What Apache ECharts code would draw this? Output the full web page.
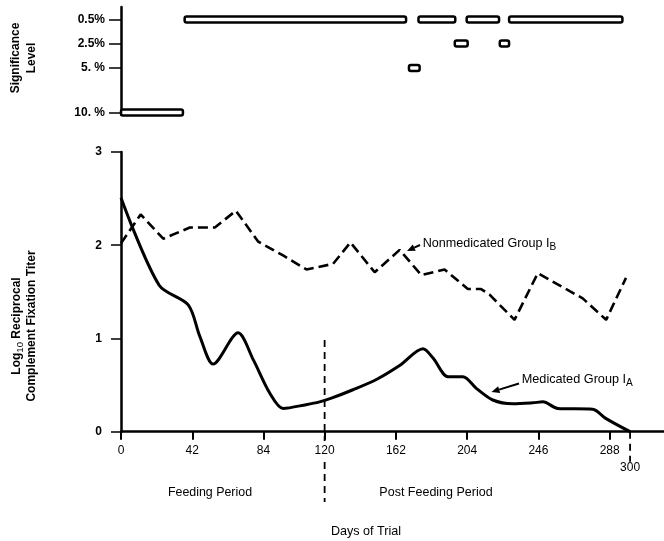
<!DOCTYPE html>
<html><head><meta charset="utf-8">
<script src="https://cdn.jsdelivr.net/npm/echarts@6/dist/echarts.min.js"></script>
<style>html,body{margin:0;padding:0;background:#fff}#c{width:664px;height:541px}</style>
</head><body><div id="c"></div>
<script>
// ---- data ----
const dayTicks = [0, 42, 84, 120, 162, 204, 246, 288, 300];
const sigLabels = ['0.5%', '2.5%', '5. %', '10. %'];
const sigLevel = ['10. %', '0.5%', '0.5%', '0.5%', '0.5%', '5. %', '2.5%', '2.5%'];
const sigStart = [0, 37.5, 175.3, 203.7, 228.7, 169.7, 196.7, 223.2];
const sigEnd   = [36.5, 168, 197, 222.8, 295.5, 176, 204.3, 228.7];

const medDays = [0, 22.5, 39.6, 46.5, 54.3, 69, 78, 87.8, 95.5, 109, 117, 124, 136.7, 150.5, 164.2, 178, 183.9, 192.7, 201.5, 209.4, 219.1, 231, 242.7, 248.6, 257.4, 278, 285.9, 300];
const medVals = [2.51, 1.57, 1.36, 1.02, 0.725, 1.06, 0.77, 0.41, 0.25, 0.29, 0.32, 0.36, 0.45, 0.56, 0.71, 0.89, 0.79, 0.59, 0.59, 0.465, 0.34, 0.30, 0.31, 0.32, 0.25, 0.24, 0.14, 0.0];

const nonDays = [0, 11.6, 24.9, 40.6, 55.3, 67.7, 80.8, 95.5, 109.3, 125, 135.2, 149.5, 164.2, 177, 190.7, 204.4, 212.2, 217.2, 231.9, 245.6, 258.4, 272.1, 285.9, 297.6];
const nonVals = [2.02, 2.33, 2.07, 2.19, 2.19, 2.37, 2.04, 1.89, 1.74, 1.80, 2.03, 1.71, 1.95, 1.68, 1.74, 1.53, 1.53, 1.47, 1.20, 1.70, 1.57, 1.43, 1.20, 1.65];

// ---- layout ----
const FONT = "'Liberation Sans', Arial, Helvetica, sans-serif";
const LEVEL_POS = [0, 1, 2.017, 3.875]; // vertical row positions of sigLabels
const chart = echarts.init(document.getElementById('c'), null, {renderer: 'canvas'});

const option = {
  animation: false,
  backgroundColor: '#fff',
  textStyle: {fontFamily: FONT, color: '#000'},
  grid: [
    {left: 121, right: 0, top: 7, height: 108},
    {left: 121, right: 0, top: 152, bottom: 109.3}
  ],
  xAxis: [
    {gridIndex: 0, type: 'value', min: 0, max: 320, show: false},
    {gridIndex: 1, type: 'value', min: 0, max: 320,
     axisLine: {show: true, lineStyle: {color: '#000', width: 2.5}},
     splitLine: {show: false},
     axisTick: {show: true, length: 8, lineStyle: {color: '#000', width: 2},
                customValues: dayTicks.filter(d => d !== 300)},
     axisLabel: {customValues: dayTicks, margin: 13, fontSize: 12, color: '#000', fontFamily: FONT,
                 formatter: v => v === 300 ? '{low|300}' : String(v),
                 rich: {low: {padding: [17, 0, 0, 0], fontSize: 12, color: '#000', fontFamily: FONT}}}
    }
  ],
  yAxis: [
    {gridIndex: 0, type: 'value', inverse: true, min: -0.52, max: 3.98,
     axisLine: {show: true, lineStyle: {color: '#000', width: 2.5}},
     splitLine: {show: false},
     axisTick: {show: true, length: 12, customValues: LEVEL_POS, lineStyle: {color: '#000', width: 1.5}},
     axisLabel: {customValues: LEVEL_POS, margin: 16, fontSize: 12, fontWeight: 'bold', color: '#000', fontFamily: FONT,
                 formatter: v => { const i = LEVEL_POS.findIndex(p => Math.abs(p - v) < 1e-6); return i >= 0 ? sigLabels[i] : ''; }}
    },
    {gridIndex: 1, type: 'value', min: 0, max: 3, interval: 1,
     axisLine: {show: true, lineStyle: {color: '#000', width: 2.5}},
     splitLine: {show: false},
     axisTick: {show: true, length: 10, lineStyle: {color: '#000', width: 1.5}},
     axisLabel: {margin: 19, fontSize: 12, fontWeight: 'bold', color: '#000', fontFamily: FONT}
    }
  ],
  series: [
    {type: 'custom', xAxisIndex: 0, yAxisIndex: 0, clip: false,
     data: sigStart.map((s, i) => [s, sigEnd[i], LEVEL_POS[sigLabels.indexOf(sigLevel[i])]]),
     encode: {x: [0, 1], y: 2},
     renderItem: (p, api) => {
       const a = api.coord([api.value(0), api.value(2)]);
       const b = api.coord([api.value(1), api.value(2)]);
       return {type: 'rect', shape: {x: a[0], y: a[1] - 3, width: b[0] - a[0], height: 6, r: 2},
               style: {fill: '#fff', stroke: '#000', lineWidth: 2.5}};
     }
    },
    {type: 'line', name: 'Medicated Group IA', xAxisIndex: 1, yAxisIndex: 1,
     data: medDays.map((d, i) => [d, medVals[i]]),
     symbol: 'none', smooth: 0.3, clip: false,
     lineStyle: {color: '#000', width: 3}},
    {type: 'line', name: 'Nonmedicated Group IB', xAxisIndex: 1, yAxisIndex: 1,
     data: nonDays.map((d, i) => [d, nonVals[i]]),
     symbol: 'none', smooth: false, clip: false,
     lineStyle: {color: '#000', width: 2.6, type: [10, 5]}}
  ]
};
chart.setOption(option);

function arrow(x1, y1, x2, y2) {
  const ang = Math.atan2(y2 - y1, x2 - x1);
  const L = 8, W = 3.5;
  const bx = x2 - L * Math.cos(ang), by = y2 - L * Math.sin(ang);
  const px = -Math.sin(ang) * W, py = Math.cos(ang) * W;
  return [
    {type: 'line', shape: {x1: x1, y1: y1, x2: bx, y2: by}, style: {stroke: '#000', lineWidth: 2}},
    {type: 'polygon', shape: {points: [[x2, y2], [bx + px, by + py], [bx - px, by - py]]}, style: {fill: '#000'}}
  ];
}
function txt(x, y, text, size, extra) {
  return {type: 'text', x: x, y: y, style: Object.assign({
    text: text, fontSize: size, fontFamily: FONT, fill: '#000', align: 'center', verticalAlign: 'middle',
    rich: {s: {fontSize: size * 0.8, fontFamily: FONT, fill: '#000', padding: [size * 0.55, 0, 0, 0]}}
  }, extra || {})};
}

const x120 = chart.convertToPixel({xAxisIndex: 1}, 120);
const x300 = chart.convertToPixel({xAxisIndex: 1}, 300);
const y0 = chart.convertToPixel({yAxisIndex: 1}, 0);

const dash = {stroke: '#000', lineWidth: 1.8, lineDash: [7, 5]};
const g = [
  {type: 'line', shape: {x1: x120, y1: 340, x2: x120, y2: 441}, style: dash},
  {type: 'line', shape: {x1: x120, y1: 462, x2: x120, y2: 502}, style: dash},
  {type: 'line', shape: {x1: x300, y1: y0, x2: x300, y2: y0 + 30}, style: dash},
  txt(422.7, 243.5, 'Nonmedicated Group I{s|B}', 12.6, {align: 'left'}),
  txt(521.7, 379.5, 'Medicated Group I{s|A}', 12.7, {align: 'left'}),
  ...arrow(420, 245, 407, 251),
  ...arrow(519, 383.5, 491.5, 392),
  txt(210, 493, 'Feeding Period', 12.4),
  txt(436, 493, 'Post Feeding Period', 12.5),
  txt(366, 532, 'Days of Trial', 12.6),
  Object.assign(txt(16, 58, 'Significance', 12, {fontWeight: 'bold'}), {rotation: Math.PI / 2}),
  Object.assign(txt(32, 58, 'Level', 12, {fontWeight: 'bold'}), {rotation: Math.PI / 2}),
  Object.assign(txt(17, 326, 'Log{s|10} Reciprocal', 12, {fontWeight: 'bold'}), {rotation: Math.PI / 2}),
  Object.assign(txt(32, 326, 'Complement Fixation Titer', 12, {fontWeight: 'bold'}), {rotation: Math.PI / 2})
];
chart.setOption({graphic: g});
</script>
</body></html>
